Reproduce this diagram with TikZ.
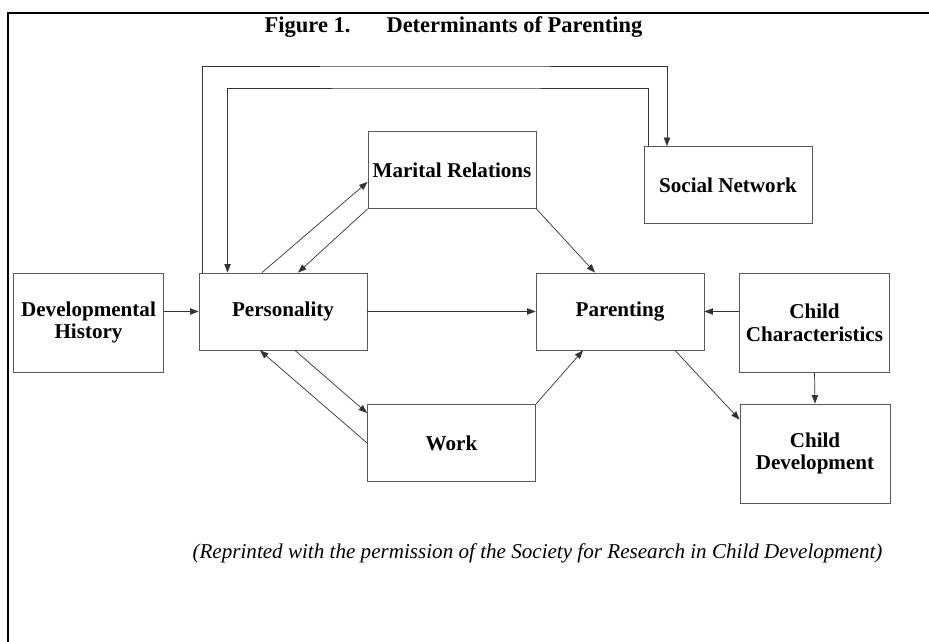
\documentclass[tikz,border=0pt]{standalone}
\usepackage{fontspec}
\setmainfont{Liberation Serif}
\usetikzlibrary{arrows.meta, positioning}

\begin{document}
\begin{tikzpicture}[
    x=0.025cm, y=-0.025cm,
    font=\fontsize{15}{16}\selectfont\bfseries,
    box/.style={rectangle, draw=black!65, line width=0.6pt, minimum width=4.2cm, minimum height=1.925cm, align=center, inner sep=2pt},
    tallbox/.style={box, minimum width=3.75cm, minimum height=2.475cm},
    arr/.style={-{Triangle[length=6pt, width=4.5pt]}, line width=0.5pt, black!80},
    frame/.style={line width=1.1pt, black}
]
\useasboundingbox (0,0) rectangle (929,642);

%% ── Page frame and texts ─────────────────────────────────────────────────────
\draw[frame] (929,13) -- (8,13) -- (8,642);
\node[font=\fontsize{16}{18}\selectfont\bfseries] (title) at (453.5, 27) {Figure 1.\hspace{1.6em}Determinants of Parenting};
\node[font=\fontsize{15}{16}\selectfont\itshape] (credit) at (537.5, 553) {(Reprinted with the permission of the Society for Research in Child Development)};

%% ── Boxes (pixel grid of the page) ───────────────────────────────────────────
\node[tallbox] (devhist)   at (88.5, 322.5) {Developmental\\History};
\node[box]     (pers)      at (283,  311.5) {Personality};
\node[box]     (marital)   at (452,  170)   {Marital Relations};
\node[box]     (work)      at (451.5,443)   {Work};
\node[box]     (parent)    at (620,  311.5) {Parenting};
\node[box]     (social)    at (728,  185)   {Social Network};
\node[tallbox] (childchar) at (814.5,323)   {Child\\Characteristics};
\node[tallbox] (childdev)  at (815,  453.5) {Child\\Development};

%% ── Middle row ───────────────────────────────────────────────────────────────
\draw[arr] (devhist.east |- pers.west) -- (pers.west);
\draw[arr] (pers.east) -- (parent.west);
\draw[arr] (childchar.west |- parent.east) -- (parent.east);
\draw[arr] (childchar.south) -- (childdev.north);

%% ── Personality <-> marital relations / work ─────────────────────────────────
\draw[arr] ([xshift=-0.525cm]pers.north) -- ([yshift=-0.3cm]marital.west);
\draw[arr] (marital.south west) -- ([xshift=0.375cm]pers.north);
\draw[arr] ([xshift=0.3cm]pers.south) -- ([yshift=0.75cm]work.west);
\draw[arr] (work.west) -- ([xshift=-0.575cm]pers.south);

%% ── Into / out of parenting ──────────────────────────────────────────────────
\draw[arr] (marital.south east) -- ([xshift=-0.625cm]parent.north);
\draw[arr] (work.north east) -- ([xshift=-0.925cm]parent.south);
\draw[arr] ([xshift=1.375cm]parent.south) -- ([yshift=-0.4cm]childdev.north west);

%% ── Loops over the top to the social network ─────────────────────────────────
\coordinate (outtop) at (435, 66);
\coordinate (intop)  at (435, 88);
\draw[arr] ([xshift=0.1cm]pers.north west) |- (outtop) -| ([xshift=-1.525cm]social.north);
\draw[arr] ([xshift=0.125cm]social.north west) |- (intop) -| ([xshift=0.725cm]pers.north west);

\end{tikzpicture}
\end{document}
